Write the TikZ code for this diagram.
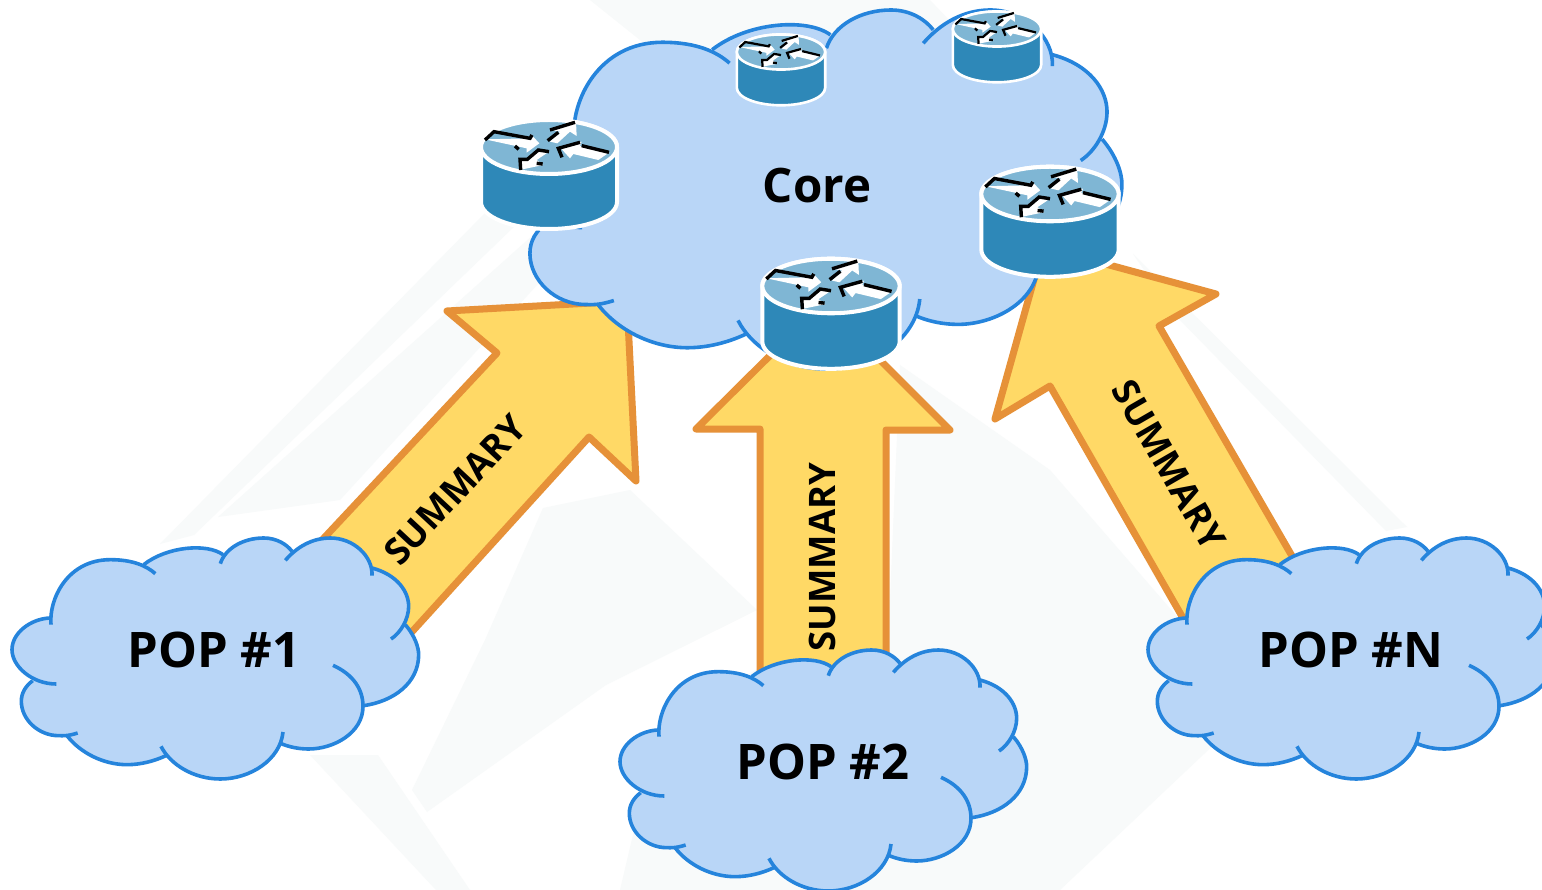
\documentclass[tikz,border=0pt]{standalone}
\usepackage{fontspec}
\setmainfont{Open Sans}
\newfontfamily\heavyfont[FakeBold=0.6]{Open Sans Bold}
\definecolor{cloudfill}{HTML}{B9D6F7}
\definecolor{cloudline}{HTML}{2584DC}
\definecolor{arrowfill}{HTML}{FFD966}
\definecolor{arrowline}{HTML}{E69138}
\definecolor{rside}{HTML}{2E88B8}
\definecolor{rtop}{HTML}{7FB6D4}
\definecolor{wm}{HTML}{F8FAFA}
\tikzset{
  bigarrow/.style={draw=arrowline,fill=arrowfill,line width=7pt,line join=round},
  cloudedge/.style={draw=cloudline,line width=3.6pt,line cap=butt,fill=none},
  bigtext/.style={font=\fontsize{49}{49}\selectfont\bfseries,inner sep=0pt},
  coretext/.style={font=\fontsize{47.5}{48}\selectfont\bfseries,inner sep=0pt},
  sumtext/.style={font=\fontsize{36.5}{37}\selectfont\bfseries,inner sep=0pt},
}
% #1,#2 = top-left of bounding box, #3,#4 = x and y scale
\newcommand{\cloudshape}[4]{%
  \begin{scope}[shift={(#1,#2)},xscale=#3/3,yscale=#4/3,shift={(-35,-55)}]
    \fill[cloudfill]
      (152,315) .. controls (145,240) and (200,120) .. (330,120) .. controls (400,120) and (440,140) .. (465,162)
      -- (430,135) .. controls (500,80) and (620,70) .. (668,105)
      -- (660,132) .. controls (675,85) and (730,55) .. (790,55) .. controls (830,55) and (860,75) .. (875,95)
      -- (855,122) .. controls (900,70) and (950,55) .. (990,55) .. controls (1060,55) and (1118,110) .. (1115,168)
      -- (1115,145) .. controls (1190,165) and (1225,215) .. (1225,260) .. controls (1225,300) and (1200,340) .. (1172,358)
      -- (1215,315) .. controls (1245,350) and (1255,385) .. (1255,405) .. controls (1255,490) and (1180,545) .. (1090,558)
      -- (1088,560) .. controls (1088,640) and (1000,688) .. (925,688) .. controls (895,688) and (865,682) .. (838,670)
      -- (848,637) .. controls (840,720) and (750,778) .. (660,778) .. controls (580,778) and (510,735) .. (482,680)
      -- (497,708) .. controls (460,725) and (420,735) .. (380,735) .. controls (310,735) and (240,700) .. (200,648)
      -- (232,640) .. controls (200,650) and (190,648) .. (175,648) .. controls (115,648) and (63,600) .. (63,545) .. controls (63,520) and (75,500) .. (97,483)
      -- (168,493) .. controls (95,493) and (35,440) .. (35,390) .. controls (35,340) and (90,298) .. (148,295) -- cycle;
    \draw[cloudedge] (152,315) .. controls (145,240) and (200,120) .. (330,120) .. controls (400,120) and (440,140) .. (465,162);
    \draw[cloudedge] (430,135) .. controls (500,80) and (620,70) .. (668,105);
    \draw[cloudedge] (660,132) .. controls (675,85) and (730,55) .. (790,55) .. controls (830,55) and (860,75) .. (875,95);
    \draw[cloudedge] (855,122) .. controls (900,70) and (950,55) .. (990,55) .. controls (1060,55) and (1118,110) .. (1115,168);
    \draw[cloudedge] (1115,145) .. controls (1190,165) and (1225,215) .. (1225,260) .. controls (1225,300) and (1200,340) .. (1172,358);
    \draw[cloudedge] (1215,315) .. controls (1245,350) and (1255,385) .. (1255,405) .. controls (1255,490) and (1180,545) .. (1090,558);
    \draw[cloudedge] (998,437) .. controls (1060,465) and (1088,510) .. (1088,560) .. controls (1088,640) and (1000,688) .. (925,688) .. controls (895,688) and (865,682) .. (838,670);
    \draw[cloudedge] (848,637) .. controls (840,720) and (750,778) .. (660,778) .. controls (580,778) and (510,735) .. (482,680);
    \draw[cloudedge] (497,708) .. controls (460,725) and (420,735) .. (380,735) .. controls (310,735) and (240,700) .. (200,648);
    \draw[cloudedge] (232,640) .. controls (200,650) and (190,648) .. (175,648) .. controls (115,648) and (63,600) .. (63,545) .. controls (63,520) and (75,500) .. (97,483);
    \draw[cloudedge] (168,493) .. controls (95,493) and (35,440) .. (35,390) .. controls (35,340) and (90,298) .. (148,295);
  \end{scope}}
% #1,#2 = centre of the top ellipse, #3 = scale
\newcommand{\routershape}[3]{%
  \begin{scope}[shift={(#1,#2)},scale=#3]
    \draw[white,line width=#3*4pt,fill=rside]
      (-68,0) -- (-68,55) arc[start angle=180,end angle=0,x radius=68,y radius=27] -- (68,0)
      arc[start angle=0,end angle=-180,x radius=68,y radius=27] -- cycle;
    \draw[white,line width=#3*4pt,fill=rtop] (0,0) ellipse[x radius=68,y radius=27];
  \end{scope}
  \begin{scope}[shift={(#1,#2)},scale=#3/3,shift={(-237,-441)},line width=#3*3.4pt]
    \fill[white] (45,418) -- (180,415) -- (183,403) -- (208,430) -- (170,458) -- (170,445) -- cycle;
    \draw (45,420) -- (72,395) -- (180,415) -- (186,405);
    \draw (135,438) -- (146,448);
    \fill[white] (240,425) -- (270,395) -- (240,390) -- (318,365) -- (320,408) -- (300,395) -- (262,430) -- cycle;
    \draw (240,390) -- (315,367);
    \draw (233,422) -- (265,397);
    \fill[white] (270,442) -- (335,425) -- (330,438) -- (418,457) -- (385,480) -- (310,462) -- (300,475) -- cycle;
    \draw (276,472) -- (265,445) -- (330,427);
    \draw (335,437) -- (417,457);
    \fill[white] (148,510) -- (150,475) -- (170,475) -- (205,448) -- (237,455) -- (200,480) -- (220,495) -- cycle;
    \draw (152,510) -- (150,478) -- (172,478) -- (205,450) -- (237,455);
    \draw (200,490) -- (218,492);
  \end{scope}}
\begin{document}
\begin{tikzpicture}[x=1pt,y=-1pt]
  \useasboundingbox (0,0) rectangle (1542,890);
  \clip (0,0) rectangle (1542,890);
  \fill[white] (0,0) rectangle (1542,890);
  % faint watermark
  \fill[wm] (590,0) -- (930,0) -- (1120,200) -- (900,300) -- (640,40) -- cycle;
  \fill[wm] (160,544) -- (485,213) -- (519,222) -- (194,535) -- cycle;
  \fill[wm] (218,517) -- (533,235) -- (560,260) -- (340,500) -- cycle;
  \fill[wm] (310,755) -- (378,755) -- (470,890) -- (436,890) -- cycle;
  \fill[wm] (412,790) -- (485,640) -- (543,508) -- (630,490) -- (757,610) -- (606,685) -- (427,812) -- cycle;
  \fill[wm] (1175,315) -- (1133,254) -- (1407,527) -- (1386,531) -- cycle;
  \fill[wm] (900,365) -- (1050,470) -- (1180,620) -- (1240,720) -- (1060,890) -- (620,890) -- (660,720) -- (890,600) -- cycle;
  % block arrows
  \draw[bigarrow] (280,585) -- (497,353) -- (447,311) -- (627,301) -- (636,481) -- (589,437) -- (370,678) -- cycle;
  \draw[bigarrow] (760,700) -- (760,429) -- (696,429) -- (823,303) -- (950,430) -- (886,430) -- (886,700) -- cycle;
  \draw[bigarrow] (1329,620) -- (1159,326) -- (1216,294) -- (1043,247) -- (995,419) -- (1050,386) -- (1207,660) -- cycle;
  \node[sumtext,rotate=47] (s1) at (455,490) {SUMMARY};
  \node[sumtext,rotate=90] (s2) at (822,557) {SUMMARY};
  \node[sumtext,rotate=-60] (s3) at (1169,465) {SUMMARY};
  % clouds
  \cloudshape{516}{10}{1.49}{1.49}
  \cloudshape{12}{538}{1}{1}
  \cloudshape{620}{650}{1}{1}
  \cloudshape{1148}{538}{1}{1}
  % routers
  \routershape{781}{52}{0.65}
  \routershape{997}{29}{0.65}
  \routershape{549}{147}{1}
  \routershape{1050}{194}{1.01}
  \routershape{831}{286}{1.01}
  % labels
  \node[coretext] (core) at (817,186) {Core};
  \node[bigtext] (p1) at (214,650) {POP \#1};
  \node[bigtext] (p2) at (823,762) {POP \#2};
  \node[bigtext] (pn) at (1351,650) {POP \#N};
\end{tikzpicture}
\end{document}
